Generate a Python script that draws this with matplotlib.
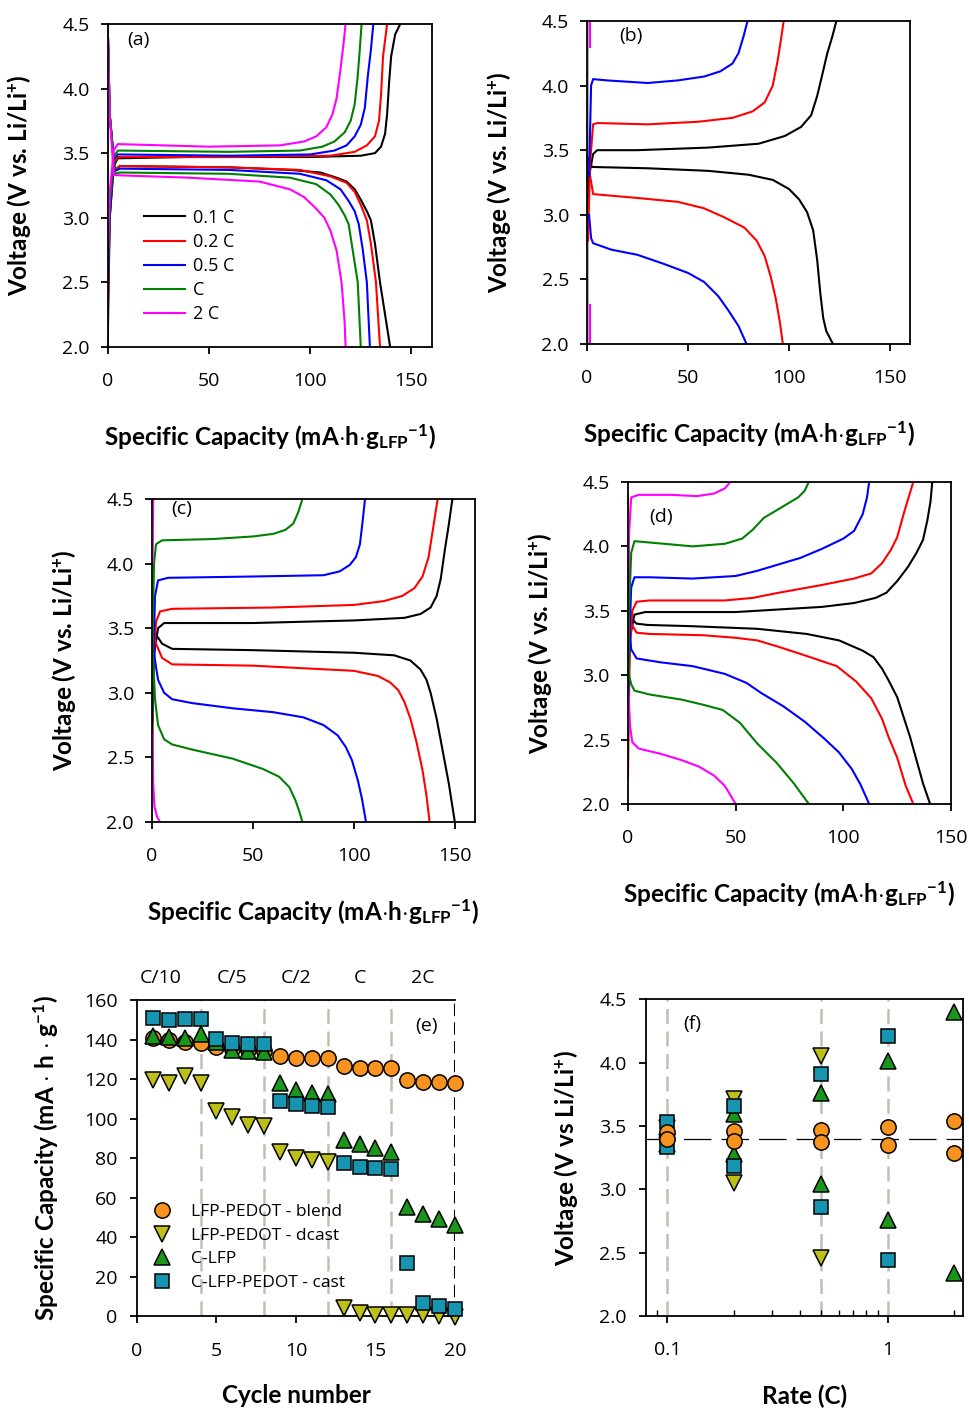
import matplotlib
matplotlib.use("Agg")
import matplotlib.pyplot as plt
from matplotlib.ticker import FixedLocator, NullFormatter, FormatStrFormatter

# --- fonts ---
plt.rcParams['font.family'] = ['Open Sans', 'DejaVu Sans']
plt.rcParams['mathtext.fontset'] = 'custom'
plt.rcParams['mathtext.rm'] = 'Lato'
plt.rcParams['mathtext.bf'] = 'Lato:bold'
plt.rcParams['mathtext.it'] = 'Lato:italic'

# --- colours per rate ---
rate_labels = ['0.1 C', '0.2 C', '0.5 C', 'C', '2 C']
rate_colors = ['black', '#ff0000', '#0000ff', '#008000', '#ff00ff']

# --- panel (a): (capacity, voltage) ---
a_chg_01 = [(0, 2.0), (1, 3.0), (3, 3.40), (5, 3.46), (40, 3.47), (100, 3.47), (125, 3.48), (132, 3.50),
            (135, 3.55), (137, 3.65), (138, 3.80), (139, 4.05), (140, 4.25), (142, 4.42), (144.5, 4.5)]
a_dis_01 = [(0, 4.5), (1, 3.8), (3.5, 3.37), (6, 3.40), (60, 3.39), (90, 3.37), (105, 3.35), (113, 3.31),
            (118, 3.28), (122, 3.22), (125, 3.14), (128, 3.05), (130, 2.98), (132, 2.80), (134.5, 2.5),
            (137, 2.25), (139.5, 2.0)]
a_chg_02 = [(0, 2.2), (1, 3.0), (3, 3.42), (5, 3.47), (60, 3.47), (110, 3.48), (122, 3.51), (128, 3.56),
            (132, 3.63), (134, 3.75), (135, 3.95), (136, 4.25), (138, 4.5)]
a_dis_02 = [(0, 4.5), (1, 3.8), (3.5, 3.37), (6, 3.40), (60, 3.39), (95, 3.37), (110, 3.32), (118, 3.27),
            (122, 3.20), (125, 3.10), (128, 2.98), (130, 2.80), (132.5, 2.5), (134.5, 2.0)]
a_chg_05 = [(0, 2.35), (1, 3.0), (3, 3.45), (5, 3.49), (60, 3.48), (100, 3.49), (112, 3.52), (118, 3.56),
            (122, 3.63), (125, 3.72), (127, 3.85), (128.5, 4.1), (130, 4.3), (131.2, 4.5)]
a_dis_05 = [(0, 4.5), (1, 3.8), (3.5, 3.36), (6, 3.38), (60, 3.37), (95, 3.34), (108, 3.29), (115, 3.22),
            (119, 3.13), (122, 3.05), (124, 2.95), (126, 2.75), (128, 2.5), (129.5, 2.0)]
a_chg_1 = [(0, 2.5), (1, 3.1), (3, 3.47), (5, 3.52), (60, 3.51), (95, 3.52), (106, 3.55), (112, 3.59),
           (117, 3.66), (120, 3.75), (122, 3.88), (123.5, 4.1), (124.5, 4.3), (125.4, 4.5)]
a_dis_1 = [(0, 4.5), (1, 3.8), (3.5, 3.34), (6, 3.35), (60, 3.34), (90, 3.31), (103, 3.26), (110, 3.18),
           (114, 3.10), (117, 3.02), (119, 2.95), (121, 2.75), (123.5, 2.5), (125, 2.0)]
a_chg_2 = [(0, 2.65), (1, 3.2), (3, 3.52), (5, 3.57), (50, 3.55), (85, 3.56), (97, 3.59), (103, 3.63),
           (108, 3.70), (111, 3.80), (113, 3.92), (115, 4.15), (116.5, 4.35), (117.5, 4.5)]
a_dis_2 = [(0, 4.5), (1, 3.8), (3, 3.33), (40, 3.31), (75, 3.28), (90, 3.22), (97, 3.16), (103, 3.07),
           (107, 3.0), (110, 2.9), (113, 2.75), (115.5, 2.5), (117, 2.2), (117.5, 2.0)]

# --- panel (b) ---
b_chg_01 = [(0, 2.9), (1, 3.3), (3, 3.47), (5, 3.50), (25, 3.50), (60, 3.52), (85, 3.55), (98, 3.61),
            (106, 3.68), (111, 3.77), (114, 3.92), (116, 4.05), (119, 4.25), (121.5, 4.38), (123.5, 4.5)]
b_dis_01 = [(0, 3.45), (2.5, 3.37), (30, 3.36), (60, 3.34), (80, 3.31), (92, 3.27), (100, 3.20), (105, 3.12),
            (109, 3.02), (112, 2.88), (114, 2.65), (115.5, 2.40), (117, 2.20), (118.5, 2.10), (121.8, 2.0)]
b_chg_02 = [(0.5, 2.8), (1.5, 3.4), (3, 3.70), (5, 3.71), (30, 3.70), (55, 3.72), (72, 3.75), (82, 3.80),
            (88, 3.87), (92, 4.0), (94.5, 4.2), (96, 4.35), (97.4, 4.5)]
b_dis_02 = [(0.5, 3.4), (3, 3.16), (25, 3.13), (45, 3.10), (58, 3.05), (68, 2.98), (78, 2.90), (84, 2.80),
            (88, 2.68), (91, 2.52), (93.5, 2.35), (95.5, 2.17), (97, 2.0)]
b_chg_05 = [(1, 3.3), (2, 4.0), (3, 4.05), (10, 4.04), (30, 4.02), (45, 4.04), (58, 4.07), (66, 4.11),
            (72, 4.17), (75, 4.25), (77.5, 4.38), (79.5, 4.5)]
b_dis_05 = [(1, 3.0), (2, 2.82), (3, 2.78), (12, 2.73), (25, 2.69), (38, 2.62), (50, 2.55), (58, 2.48),
            (65, 2.37), (70, 2.26), (75, 2.14), (79, 2.0)]
b_chg_1 = [(0.7, 2.0), (0.7, 4.5)]
b_chg_2 = [(1.5, 4.3), (1.5, 4.5)]
b_dis_2 = [(1.5, 2.0), (1.5, 2.3)]

# --- panel (c) ---
c_chg_01 = [(0, 2.9), (1, 3.3), (3, 3.50), (6, 3.54), (50, 3.54), (100, 3.56), (125, 3.58), (133, 3.61),
            (138, 3.66), (141, 3.75), (143, 3.88), (145, 4.1), (147, 4.3), (148.8, 4.5)]
c_dis_01 = [(0, 3.55), (2, 3.45), (5, 3.38), (10, 3.34), (50, 3.33), (100, 3.31), (120, 3.29), (128, 3.25),
            (133, 3.18), (136, 3.10), (138, 3.0), (141, 2.8), (144, 2.55), (147, 2.3), (150, 2.0)]
c_chg_02 = [(0, 2.5), (1, 3.3), (2, 3.55), (4, 3.63), (10, 3.65), (60, 3.66), (100, 3.68), (115, 3.71),
            (124, 3.75), (130, 3.81), (134, 3.90), (137, 4.05), (139, 4.25), (141.5, 4.5)]
c_dis_02 = [(0, 3.55), (2, 3.38), (5, 3.27), (10, 3.22), (50, 3.21), (100, 3.17), (112, 3.13), (118, 3.08),
            (122, 3.02), (125, 2.93), (128, 2.80), (131, 2.62), (134, 2.40), (136, 2.2), (137.5, 2.0)]
c_chg_05 = [(0, 2.7), (0.8, 3.3), (1.5, 3.75), (3, 3.87), (8, 3.89), (50, 3.90), (85, 3.91), (93, 3.94),
            (98, 3.99), (101, 4.05), (103, 4.15), (104.5, 4.35), (105.5, 4.5)]
c_dis_05 = [(0.5, 3.45), (1.5, 3.25), (3, 3.10), (6, 3.0), (10, 2.95), (20, 2.92), (40, 2.88), (60, 2.85),
            (75, 2.81), (85, 2.75), (92, 2.67), (96, 2.58), (99, 2.48), (102, 2.32), (104, 2.18), (106, 2.0)]
c_chg_1 = [(0, 2.5), (0.5, 3.6), (1, 4.0), (2, 4.15), (5, 4.18), (30, 4.19), (50, 4.21), (60, 4.23),
           (66, 4.26), (70, 4.31), (72.5, 4.40), (74.5, 4.5)]
c_dis_1 = [(0.5, 3.3), (1.5, 2.95), (3, 2.75), (6, 2.64), (10, 2.60), (20, 2.56), (40, 2.49), (55, 2.41),
           (63, 2.35), (68, 2.27), (71, 2.17), (73, 2.08), (74.5, 2.0)]
c_chg_2 = [(0.3, 4.0), (0.6, 4.5)]
c_dis_2 = [(0.3, 2.7), (0.6, 2.3), (1.2, 2.12), (2.5, 2.04), (4, 2.0)]

# --- panel (d) ---
d_chg_01 = [(0, 2.8), (1, 3.3), (3, 3.47), (8, 3.49), (50, 3.49), (90, 3.53), (105, 3.56), (115, 3.60),
            (120, 3.64), (125, 3.73), (130, 3.84), (134, 3.95), (137, 4.05), (139, 4.2), (140.5, 4.35), (141.3, 4.5)]
d_dis_01 = [(0, 3.5), (1.5, 3.44), (4, 3.40), (9, 3.39), (30, 3.38), (60, 3.36), (83, 3.32), (98, 3.27),
            (109, 3.19), (114, 3.14), (118, 3.05), (121, 2.96), (125, 2.83), (131, 2.52), (137, 2.16), (140.3, 2.0)]
d_chg_02 = [(0, 2.2), (0.8, 3.2), (2, 3.50), (4, 3.57), (10, 3.58), (45, 3.58), (58, 3.60), (70, 3.64),
            (90, 3.70), (105, 3.75), (113, 3.79), (118, 3.87), (122, 3.97), (125, 4.07), (128.5, 4.28), (132.5, 4.5)]
d_dis_02 = [(0, 4.4), (0.5, 3.6), (1.5, 3.40), (4, 3.33), (10, 3.32), (35, 3.31), (50, 3.29), (60, 3.27),
            (70, 3.22), (81, 3.16), (97, 3.07), (106, 2.95), (113, 2.82), (118, 2.66), (121, 2.52), (125, 2.36),
            (129, 2.14), (132.5, 2.0)]
d_chg_05 = [(0, 2.5), (0.5, 3.2), (1.5, 3.68), (3, 3.76), (10, 3.76), (30, 3.75), (50, 3.77), (60, 3.81),
            (70, 3.86), (80, 3.91), (90, 3.98), (100, 4.06), (105, 4.12), (109, 4.25), (111, 4.38), (112, 4.5)]
d_dis_05 = [(0, 4.15), (0.5, 3.4), (1.5, 3.2), (4, 3.13), (15, 3.10), (30, 3.07), (45, 3.01), (55, 2.94),
            (62, 2.86), (72, 2.76), (82, 2.64), (91, 2.51), (98, 2.40), (104, 2.27), (108, 2.15), (112, 2.0)]
d_chg_1 = [(0, 2.95), (0.5, 3.5), (1.5, 3.95), (3, 4.04), (10, 4.03), (30, 4.00), (45, 4.02), (53, 4.06),
           (58, 4.13), (63, 4.22), (72, 4.31), (79, 4.38), (82, 4.43), (84, 4.5)]
d_dis_1 = [(0, 3.65), (0.5, 3.0), (1.5, 2.93), (3, 2.88), (10, 2.85), (25, 2.81), (35, 2.77), (44, 2.73),
           (52, 2.63), (60, 2.47), (69, 2.32), (77, 2.16), (84, 2.0)]
d_chg_2 = [(0, 3.6), (0.5, 4.1), (1.5, 4.38), (5, 4.40), (20, 4.40), (32, 4.39), (40, 4.41), (45, 4.45),
           (47.5, 4.5)]
d_dis_2 = [(0, 2.95), (1, 2.6), (2, 2.48), (5, 2.43), (15, 2.39), (25, 2.34), (33, 2.29), (40, 2.22),
           (45, 2.14), (50, 2.0)]

# --- panel (e): capacity vs cycle ---
cycles = list(range(1, 21))
blend_cap = [141, 140, 139, 138.5, 136.5, 135, 134.5, 134, 131.5, 130.5,
             130.5, 130.5, 126.5, 125.5, 125.5, 125.5, 119.5, 118.5, 118.5, 118]
dcast_cap = [119.5, 118, 121.5, 118, 104, 101, 97, 96, 83, 80,
             79, 78, 4, 1.5, 0.5, 0.5, 0.5, 0.5, 0, -0.5]
clfp_cap = [141.8, 141.4, 141, 142.8, 139, 134.7, 134.4, 133.8, 118, 114.4,
            113, 112.2, 89.4, 87, 85, 83.2, 55.4, 51.5, 49, 46.1]
cast_cap = [151, 150, 150.4, 150.4, 140.3, 138.4, 137.6, 137.6, 109, 107.3,
            106.5, 106, 77.3, 75.3, 74.8, 74.3, 26.7, 6.4, 5.1, 3.4]
step_ends = [4, 8, 12, 16]
rate_steps = ['C/10', 'C/5', 'C/2', 'C', '2C']

# --- panel (f): plateau voltages vs rate ---
blend_rate = [0.1, 0.1, 0.2, 0.2, 0.5, 0.5, 1, 1, 2, 2]
blend_v = [3.45, 3.40, 3.46, 3.38, 3.47, 3.37, 3.49, 3.35, 3.54, 3.29]
dcast_rate = [0.1, 0.1, 0.2, 0.2, 0.5, 0.5]
dcast_v = [3.48, 3.37, 3.71, 3.05, 4.05, 2.46]
clfp_rate = [0.1, 0.1, 0.2, 0.2, 0.5, 0.5, 1, 1, 2, 2]
clfp_v = [3.47, 3.36, 3.59, 3.28, 3.76, 3.04, 4.01, 2.76, 4.40, 2.34]
cast_rate = [0.1, 0.1, 0.2, 0.2, 0.5, 0.5, 1, 1]
cast_v = [3.53, 3.33, 3.66, 3.18, 3.91, 2.86, 4.21, 2.44]
ref_voltage = 3.4

series_names = ['LFP-PEDOT - blend', 'LFP-PEDOT - dcast', 'C-LFP', 'C-LFP-PEDOT - cast']
series_colors = ['#f7931e', '#bfbf1a', '#1a961a', '#1795b0']
series_markers = ['o', 'v', '^', 's']

LABEL_FONT = dict(family='Lato', fontweight='bold', fontsize=17.5)
TICK_SIZE = 14
XLAB = r'Specific Capacity (mA$\mathbf{\cdot}$h$\mathbf{\cdot}$g$_{\mathbf{LFP}}$$^{\mathbf{-1}}$)'
YLAB = r'Voltage (V vs. Li/Li$^{\mathbf{+}}$)'

fig = plt.figure(figsize=(9.7, 14.08), dpi=100)


def vc_panel(rect, curves, xmax, tag, tagpos, ylabx):
    ax = fig.add_axes(rect)
    for i, (chg, dis) in enumerate(curves):
        for pts in (chg, dis):
            if pts is None:
                continue
            xs, ys = zip(*pts)
            ax.plot(xs, ys, color=rate_colors[i], lw=1.5)
    ax.set_xlim(0, xmax)
    ax.set_ylim(2.0, 4.5)
    ax.set_xticks([0, 50, 100, 150])
    ax.set_yticks([2.0, 2.5, 3.0, 3.5, 4.0, 4.5])
    ax.yaxis.set_major_formatter(FormatStrFormatter('%.1f'))
    ax.tick_params(direction='out', length=5, width=1.3, labelsize=TICK_SIZE)
    ax.tick_params(axis='x', pad=13)
    ax.tick_params(axis='y', pad=8)
    for s in ax.spines.values():
        s.set_linewidth(1.3)
    ax.set_xlabel(XLAB, labelpad=23, **LABEL_FONT)
    ax.set_ylabel(YLAB, **LABEL_FONT)
    ax.yaxis.set_label_coords(ylabx, 0.5)
    ax.text(tagpos[0], tagpos[1], tag, transform=ax.transAxes, fontsize=TICK_SIZE, va='center')
    return ax


ax_a = vc_panel([0.1110, 0.7536, 0.3340, 0.2294],
                [(a_chg_01, a_dis_01), (a_chg_02, a_dis_02), (a_chg_05, a_dis_05),
                 (a_chg_1, a_dis_1), (a_chg_2, a_dis_2)], 160, '(a)', (0.06, 0.95), -0.23)
for lab, col in zip(rate_labels, rate_colors):
    ax_a.plot([], [], color=col, lw=1.5, label=lab)
ax_a.legend(loc='upper left', bbox_to_anchor=(0.111, 0.428), frameon=False, fontsize=13,
            borderpad=0, borderaxespad=0, handlelength=2.3, handletextpad=0.45, labelspacing=0.34)

ax_b = vc_panel([0.6052, 0.7557, 0.3330, 0.2294],
                [(b_chg_01, b_dis_01), (b_chg_02, b_dis_02), (b_chg_05, b_dis_05),
                 (None, None), (b_chg_2, b_dis_2)], 160, '(b)', (0.10, 0.955), -0.23)
ax_b.plot(*zip(*b_chg_1), color='#b0b0b0', lw=1.5, zorder=1)

vc_panel([0.1567, 0.4162, 0.3330, 0.2294],
         [(c_chg_01, c_dis_01), (c_chg_02, c_dis_02), (c_chg_05, c_dis_05),
          (c_chg_1, c_dis_1), (c_chg_2, c_dis_2)], 160, '(c)', (0.06, 0.97), -0.23)

vc_panel([0.6474, 0.4290, 0.3330, 0.2287],
         [(d_chg_01, d_dis_01), (d_chg_02, d_dis_02), (d_chg_05, d_dis_05),
          (d_chg_1, d_dis_1), (d_chg_2, d_dis_2)], 150, '(d)', (0.065, 0.89), -0.23)

# --- panel (e) ---
ax_e = fig.add_axes([0.1412, 0.0653, 0.3278, 0.2244])
for xv in step_ends:
    ax_e.axvline(xv, color='#c0c0b4', lw=1.8, dashes=(6, 3), zorder=0)
ax_e.axvline(20, color='black', lw=1.5, dashes=(6, 3), zorder=0)
for yvals, name, col, mk in zip([blend_cap, dcast_cap, clfp_cap, cast_cap],
                                series_names, series_colors, series_markers):
    ax_e.plot(cycles, yvals, linestyle='none', marker=mk, markersize=11 if mk != 's' else 10,
              markerfacecolor=col, markeredgecolor='black', markeredgewidth=1.1,
              label=name, clip_on=False, zorder=3)
ax_e.set_xlim(0, 20)
ax_e.set_ylim(0, 160)
ax_e.set_xticks([0, 5, 10, 15, 20])
ax_e.set_yticks(range(0, 161, 20))
ax_e.spines['right'].set_visible(False)
for s in ax_e.spines.values():
    s.set_linewidth(1.3)
ax_e.tick_params(direction='out', length=5, width=1.3, labelsize=TICK_SIZE)
ax_e.tick_params(axis='x', pad=14)
ax_e.tick_params(axis='y', pad=9)
ax_e.set_xlabel('Cycle number', labelpad=17, **LABEL_FONT)
ax_e.set_ylabel(r'Specific Capacity (mA $\mathbf{\cdot}$ h $\mathbf{\cdot}$ g$^{\mathbf{-1}}$)', **LABEL_FONT)
ax_e.yaxis.set_label_coords(-0.242, 0.5)
for xpos, lab in zip([1.5, 6, 10, 14, 18], rate_steps):
    ax_e.text(xpos, 1.07, lab, transform=ax_e.get_xaxis_transform(), ha='center', va='center',
              fontsize=TICK_SIZE)
ax_e.text(0.91, 0.918, '(e)', transform=ax_e.transAxes, ha='center', va='center', fontsize=TICK_SIZE)
ax_e.legend(loc='upper left', bbox_to_anchor=(0.05, 0.354), frameon=False, fontsize=12.5,
            borderpad=0, borderaxespad=0, handlelength=1.0, handletextpad=1.2, labelspacing=0.42)

# --- panel (f) ---
ax_f = fig.add_axes([0.6660, 0.0653, 0.3268, 0.2251])
ax_f.set_xscale('log')
for xv in [0.1, 0.5, 1]:
    ax_f.axvline(xv, color='#c0c0b4', lw=1.8, dashes=(6, 3), zorder=0)
ax_f.axhline(ref_voltage, color='black', lw=0.9, dashes=(22, 8), zorder=1)
for xs, ys, col, mk in zip([dcast_rate, clfp_rate, cast_rate, blend_rate],
                           [dcast_v, clfp_v, cast_v, blend_v],
                           [series_colors[1], series_colors[2], series_colors[3], series_colors[0]],
                           ['v', '^', 's', 'o']):
    ax_f.plot(xs, ys, linestyle='none', marker=mk, markersize=11 if mk != 's' else 10,
              markerfacecolor=col, markeredgecolor='black', markeredgewidth=1.1, clip_on=False, zorder=3)
ax_f.set_xlim(0.08, 2.2)
ax_f.set_ylim(2.0, 4.5)
ax_f.xaxis.set_major_locator(FixedLocator([0.1, 1]))
ax_f.set_xticklabels(['0.1', '1'])
ax_f.xaxis.set_minor_locator(FixedLocator([0.09, 0.2, 0.3, 0.4, 0.5, 0.6, 0.7, 0.8, 0.9, 2]))
ax_f.xaxis.set_minor_formatter(NullFormatter())
ax_f.set_yticks([2.0, 2.5, 3.0, 3.5, 4.0, 4.5])
ax_f.yaxis.set_major_formatter(FormatStrFormatter('%.1f'))
for s in ax_f.spines.values():
    s.set_linewidth(1.3)
ax_f.tick_params(direction='out', length=5, width=1.3, labelsize=TICK_SIZE)
ax_f.tick_params(axis='x', which='minor', direction='in', length=4, width=1.0)
ax_f.tick_params(axis='x', which='major', pad=13)
ax_f.tick_params(axis='y', pad=9)
ax_f.set_xlabel('Rate (C)', labelpad=18, **LABEL_FONT)
ax_f.set_ylabel(r'Voltage (V vs Li/Li$^{\mathbf{+}}$)', **LABEL_FONT)
ax_f.yaxis.set_label_coords(-0.208, 0.5)
ax_f.text(0.145, 0.92, '(f)', transform=ax_f.transAxes, ha='center', va='center', fontsize=TICK_SIZE)

fig.savefig('out.png', dpi=100)
